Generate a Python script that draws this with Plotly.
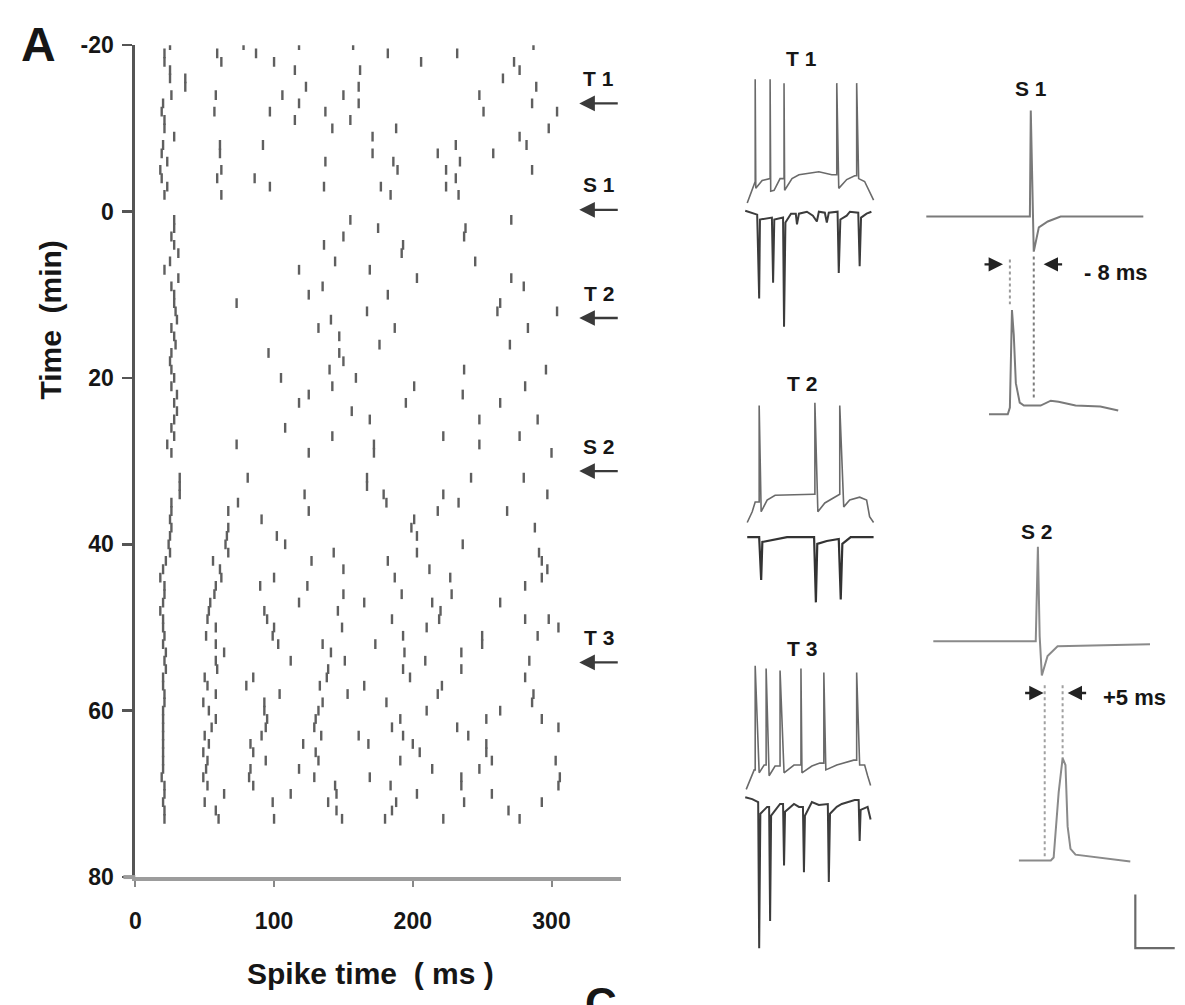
import plotly.graph_objects as go

W, H = 1185, 1005
FONT = "Liberation Sans, Arial, Helvetica, sans-serif"
INK = "#161616"
TRACE = "#5a5a5a"

# ---------------- Panel A raster: spike times (ms) per sweep ----------------
EARLY_MIN = list(range(-20, -1))
EARLY_SPIKES = [
    [25, 78, 118, 157, 287],
    [21, 59, 87, 182, 232],
    [21, 62, 100, 206, 273],
    [25, 115, 162, 277],
    [25, 36, 265],
    [36, 123, 161, 289],
    [26, 58, 106, 150, 248],
    [20, 118, 161, 286],
    [19, 57, 97, 137, 251, 304],
    [21, 115, 155],
    [21, 142, 188, 298],
    [28, 171, 277],
    [20, 61, 92, 231, 282],
    [19, 61, 171, 218, 258],
    [23, 137, 186, 234],
    [18, 62, 189, 224, 286],
    [19, 59, 86, 231],
    [23, 97, 136, 177, 224],
    [21, 62, 184, 233],
]
MID_MIN = list(range(1, 30))
MID_SPIKES = [
    [28, 155, 271],
    [28, 175, 238],
    [26, 150, 237],
    [28, 136, 193],
    [31, 192],
    [25, 144, 245],
    [21, 118, 169],
    [31, 203, 271],
    [26, 135, 280],
    [28, 125, 182],
    [28, 73, 263],
    [29, 167, 261, 304],
    [30, 141],
    [26, 132, 187, 283],
    [28, 147],
    [29, 176, 270],
    [26, 96, 147],
    [25, 150],
    [26, 140, 237, 296],
    [28, 105, 159],
    [26, 142, 201, 281],
    [30, 125, 236],
    [28, 118, 195, 263],
    [30, 156],
    [28, 169, 248, 290],
    [26, 108],
    [28, 142, 222, 277],
    [23, 73, 172, 248],
    [26, 125, 172, 300],
]
LATE_MIN = list(range(32, 74))
LATE_SPIKES = [
    [32, 81, 167, 242, 280],
    [32, 167],
    [32, 122, 179, 222, 297],
    [26, 74, 181, 233],
    [26, 67, 125, 218, 268],
    [25, 91, 201],
    [26, 67, 199, 288],
    [25, 66, 102, 203],
    [24, 65, 108, 236],
    [25, 67, 143, 203, 291],
    [22, 56, 127, 182, 293],
    [20, 61, 150, 212, 297],
    [18, 62, 100, 187, 227, 293],
    [21, 58, 90, 124, 281],
    [21, 57, 150, 192, 228],
    [20, 54, 118, 165, 214, 263],
    [18, 53, 93, 146, 220],
    [20, 52, 95, 185, 219, 281, 298],
    [20, 58, 100, 149, 210, 305],
    [21, 51, 99, 193, 250, 290],
    [20, 58, 103, 135, 173, 250],
    [22, 64, 141, 194, 235],
    [21, 58, 112, 151, 209, 284],
    [22, 59, 139, 193, 235],
    [20, 50, 85, 138, 198, 281],
    [20, 52, 80, 133, 165, 221],
    [21, 58, 104, 153, 218, 287],
    [21, 49, 93, 135, 181, 286],
    [20, 53, 93, 132, 210, 263],
    [20, 58, 95, 130, 191, 253, 293],
    [20, 55, 94, 129, 185, 232, 305],
    [20, 50, 91, 134, 161, 193, 240],
    [20, 53, 83, 121, 168, 200, 253],
    [20, 49, 85, 130, 205, 253],
    [20, 52, 94, 132, 191, 257, 303],
    [20, 51, 83, 118, 214, 248],
    [19, 49, 82, 129, 169, 235, 306],
    [21, 52, 85, 144, 184, 235, 305],
    [21, 64, 112, 145, 203, 257],
    [20, 50, 99, 139, 188, 237, 293],
    [21, 58, 145, 185, 269],
    [21, 60, 100, 149, 180, 222, 277],
]

X_TICKS = [0, 100, 200, 300]
Y_TICKS = [-20, 0, 20, 40, 60, 80]
Y_TICK_TEXT = ["-20", "0", "20", "40", "60", "80"]

MARK_LABELS = ["T 1", "S 1", "T 2", "S 2", "T 3"]
MARK_TIMES = [-13.0, -0.2, 12.8, 31.2, 54.2]
MARK_ARROW_MS = 320

# ---------------- Sample sweeps T1..T3 (time ms, potential a.u.) ----------------
T1_UP_T = [0, 12.5, 20, 20, 21.5, 37.5, 57.5, 57.5, 59, 67.5, 82.5, 92.5, 92.5, 94, 112.5, 130, 180,
           212.5, 225, 225, 230, 250, 270, 275, 275, 280, 295, 305, 317.5]
T1_UP_V = [5, 18, 27, 132, 20, 28, 30, 132, 17, 18, 30, 30, 128, 18, 30, 34, 37,
           34, 34, 128, 20, 29, 33, 33, 128, 30, 27, 18, 8]
T1_LO_T = [-5, 25, 30, 32, 62, 65, 68, 90, 92.5, 96, 110, 122, 125, 130, 150, 165, 175, 180, 195, 200,
           205, 227, 230, 234, 250, 258, 279, 282.5, 286, 300, 312]
T1_LO_V = [-3, -7, -93, -12, -10, -77, -12, -10, -122, -15, -6, -6, -17, -6, -4, -8, -14, -4, -5, -15,
           -5, -4, -67, -12, -8, -4, -5, -60, -10, -6, -4]

T2_UP_T = [0, 12.5, 20, 30, 30, 35, 50, 70, 167.5, 170, 170, 177.5, 195, 230, 232.5, 232.5, 242.5,
           257.5, 282.5, 300, 307.5, 317.5]
T2_UP_V = [-23, -12, -2, -2, 97, -12, 0, 5, 6, 6, 100, -12, -3, 6, 6, 97, -7, 0, 3, 0, -17, -23]
T2_LO_T = [0, 30, 35, 38, 100, 168, 172.5, 176, 200, 230, 235, 239, 260, 317.5]
T2_LO_V = [-38, -38, -82, -43, -38, -38, -105, -45, -42, -40, -102, -45, -38, -38]

T3_UP_T = [-2.5, 7.5, 17.5, 20, 20, 30, 42.5, 47.5, 47.5, 55, 70, 82.5, 82.5, 92.5, 117.5, 135, 135,
           137.5, 162.5, 182.5, 192.5, 192.5, 197.5, 225, 267.5, 275, 275, 282.5, 295, 302.5, 310]
T3_UP_V = [3, 13, 23, 23, 130, 20, 28, 28, 127, 17, 27, 27, 125, 20, 28, 28, 127,
           20, 27, 30, 30, 123, 23, 28, 33, 33, 123, 28, 28, 17, 7]
T3_LO_T = [-5, 12.5, 27.5, 30, 33, 50, 55, 57.5, 60, 82.5, 90, 92.5, 95, 117.5, 130, 140, 142.5, 145,
           162.5, 180, 202.5, 205, 208, 225, 237.5, 270, 280, 282.5, 285, 302.5, 310]
T3_LO_V = [-5, -7, -10, -160, -22, -15, -15, -132, -24, -12, -12, -75, -20, -12, -15, -15, -82, -24,
           -10, -13, -12, -92, -22, -15, -12, -8, -8, -50, -18, -15, -28]

# ---------------- Spike-triggered averages S1, S2 (ms re. unit spike) ----------------
S1_UP_T = [-36, -1.3, -1.0, -0.4, 0.0, 1.7, 4.7, 9.0, 36.7]
S1_UP_V = [0, 0, 109, 10, -36, -11, -5, 0, 0]
S1_LO_T = [-15, -8.7, -8.0, -7.3, -6.7, -6.0, -4.7, -3.3, 2.3, 5.7, 8.3, 14.0, 22.3, 28.3]
S1_LO_V = [-203, -203, -196, -96, -121, -171, -191, -194, -194, -189, -190, -194, -195, -199]
S1_LAG_MS = -8

S2_UP_T = [-31.1, -2.5, -1.9, -1.4, -0.8, 0.8, 3.6, 29.4]
S2_UP_V = [24, 24, 121, 29, -11, 9, 19, 21]
S2_LO_T = [-7.2, 1.7, 2.5, 3.9, 5.0, 5.8, 6.4, 7.2, 8.6, 12.8, 18.3, 23.9]
S2_LO_V = [-201, -201, -198, -131, -96, -103, -166, -189, -195, -197, -199, -202]
S2_LAG_MS = 5

SCALE_ORIGIN = (25.3, -291)
SCALE_LEN = (11, 55)

# panel boxes in pixels (x0, x1, y0, y1) and their data ranges
PANELS = [
    ("T1", (735, 885, 30, 340), (-25, 350), (-140, 170)),
    ("T2", (735, 885, 360, 620), (-25, 350), (-120, 140)),
    ("T3", (735, 885, 630, 980), (-25, 350), (-180, 170)),
    ("S1", (915, 1185, 60, 430), (-39.33, 50.67), (-221, 149)),
    ("S2", (920, 1185, 520, 975), (-34.44, 39.17), (-306, 149)),
]

fig = go.Figure()

# raster
xs, ys = [], []
for mins, rows in ((EARLY_MIN, EARLY_SPIKES), (MID_MIN, MID_SPIKES), (LATE_MIN, LATE_SPIKES)):
    for m, row in zip(mins, rows):
        xs += row
        ys += [m] * len(row)
fig.add_trace(go.Scatter(
    x=xs, y=ys, mode="markers", hoverinfo="skip", showlegend=False,
    marker=dict(symbol="line-ns", size=7, line=dict(width=2.4, color="#5f5f5f")),
))

layout_axes = {}
axref = {}
for i, (name, (x0, x1, y0, y1), xr, yr) in enumerate(PANELS, start=2):
    layout_axes[f"xaxis{i}"] = dict(domain=[x0 / W, x1 / W], range=list(xr), visible=False,
                                    anchor=f"y{i}", fixedrange=True)
    layout_axes[f"yaxis{i}"] = dict(domain=[1 - y1 / H, 1 - y0 / H], range=list(yr), visible=False,
                                    anchor=f"x{i}", fixedrange=True)
    axref[name] = (f"x{i}", f"y{i}")


def line(name, t, v, width=1.6, color=TRACE, dash=None):
    xa, ya = axref[name]
    fig.add_trace(go.Scatter(x=t, y=v, mode="lines", xaxis=xa, yaxis=ya, hoverinfo="skip",
                             showlegend=False, line=dict(width=width, color=color, dash=dash)))


line("T1", T1_UP_T, T1_UP_V, 1.6, "#6a6a6a")
line("T1", T1_LO_T, T1_LO_V, 2.0, "#3c3c3c")
line("T2", T2_UP_T, T2_UP_V, 1.6, "#6a6a6a")
line("T2", T2_LO_T, T2_LO_V, 2.2, "#333333")
line("T3", T3_UP_T, T3_UP_V, 1.6, "#6a6a6a")
line("T3", T3_LO_T, T3_LO_V, 2.0, "#3c3c3c")

line("S1", S1_UP_T, S1_UP_V, 2.0, "#7a7a7a")
line("S1", S1_LO_T, S1_LO_V, 2.0, "#7a7a7a")
line("S1", [S1_LAG_MS, S1_LAG_MS], [-44, -90], 2.0, "#9a9a9a", "dot")
line("S1", [0, 0], [-41, -186], 2.0, "#7a7a7a", "dot")

line("S2", S2_UP_T, S2_UP_V, 2.0, "#8a8a8a")
line("S2", S2_LO_T, S2_LO_V, 2.0, "#8a8a8a")
line("S2", [0, 0], [-21, -197], 2.0, "#a0a0a0", "dot")
line("S2", [S2_LAG_MS, S2_LAG_MS], [-21, -96], 2.0, "#a0a0a0", "dot")
sx, sy = SCALE_ORIGIN
line("S2", [sx, sx, sx + SCALE_LEN[0]], [sy + SCALE_LEN[1], sy, sy], 2.2, "#6a6a6a")

ann = []
bold = dict(family=FONT, color=INK, weight="bold")

# raster markers
for lab, t in zip(MARK_LABELS, MARK_TIMES):
    ann.append(dict(x=MARK_ARROW_MS, y=t, xref="x", yref="y", text="", showarrow=True,
                    ax=40, ay=0, arrowhead=2, arrowsize=1.3, arrowwidth=2.4, arrowcolor="#3a3a3a"))
    ann.append(dict(x=MARK_ARROW_MS + 14, y=t, xref="x", yref="y", text=lab, showarrow=False,
                    xanchor="center", yanchor="middle", yshift=25, font=dict(bold, size=21)))

# panel labels
for name, (tx, ty) in (("T1", (137.5, 153)), ("T2", (137.5, 120)), ("T3", (137.5, 148)),
                       ("S1", (-1, 131)), ("S2", (-2.2, 137))):
    xa, ya = axref[name]
    ann.append(dict(x=tx, y=ty, xref=xa, yref=ya, text=name[0] + " " + name[1], showarrow=False,
                    xanchor="center", yanchor="middle", font=dict(bold, size=21)))

# lag arrows & text
for name, yv, lh, rh, tx, ty, txt in (("S1", -49, -10.3, 3.3, 16.3, -57, "- 8 ms"),
                                      ("S2", -29, -0.3, 6.4, 15.6, -34, "+5 ms")):
    xa, ya = axref[name]
    ann.append(dict(x=lh, y=yv, xref=xa, yref=ya, text="", showarrow=True, ax=-20, ay=0,
                    arrowhead=2, arrowsize=1.2, arrowwidth=2.4, arrowcolor="#222"))
    ann.append(dict(x=rh, y=yv, xref=xa, yref=ya, text="", showarrow=True, ax=20, ay=0,
                    arrowhead=2, arrowsize=1.2, arrowwidth=2.4, arrowcolor="#222"))
    ann.append(dict(x=tx, y=ty, xref=xa, yref=ya, text=txt, showarrow=False, xanchor="left",
                    yanchor="middle", font=dict(bold, size=22)))


# figure letters and axis titles
def paper_text(px, py, text, size, **kw):
    d = dict(x=px / W, y=1 - py / H, xref="paper", yref="paper", text=text, showarrow=False,
             xanchor="center", yanchor="middle", font=dict(bold, size=size))
    d.update(kw)
    ann.append(d)


paper_text(33, 32, "A", 48)
paper_text(45, 315, "Time  (min)", 30, textangle=-90)
paper_text(366, 986, "Spike time  ( ms )", 30)
paper_text(598, 990, "C", 44, yanchor="top")

fig.update_layout(
    width=W, height=H, autosize=False,
    margin=dict(l=0, r=0, t=0, b=0),
    paper_bgcolor="white", plot_bgcolor="white",
    showlegend=False,
    xaxis=dict(domain=[130 / W, 618 / W], range=[0, 350], tickvals=X_TICKS, ticks="outside",
               ticklen=6, tickwidth=2, tickcolor="#888", showline=True, linecolor="#9c9c9c",
               linewidth=4, showgrid=False, zeroline=False, ticklabelstandoff=14,
               tickfont=dict(family=FONT, size=23, color=INK, weight="bold"), fixedrange=True),
    yaxis=dict(domain=[1 - 887 / H, 1 - 33 / H], range=[80, -20], tickvals=Y_TICKS,
               ticktext=Y_TICK_TEXT, ticks="outside",
               ticklen=10, tickwidth=2.5, tickcolor="#555", showline=True, linecolor="#555",
               linewidth=3, showgrid=False, zeroline=False, ticklabelstandoff=4,
               tickfont=dict(family=FONT, size=23, color=INK, weight="bold"), fixedrange=True),
    shapes=[dict(type="line", xref="paper", yref="paper", x0=118 / W, x1=130 / W,
                 y0=1 - 887 / H, y1=1 - 887 / H, line=dict(color="#9c9c9c", width=4))],
    annotations=ann,
    **layout_axes,
)

fig.write_html("out.html", config={"displayModeBar": False, "staticPlot": True},
               post_script="document.body.style.margin='0';")
